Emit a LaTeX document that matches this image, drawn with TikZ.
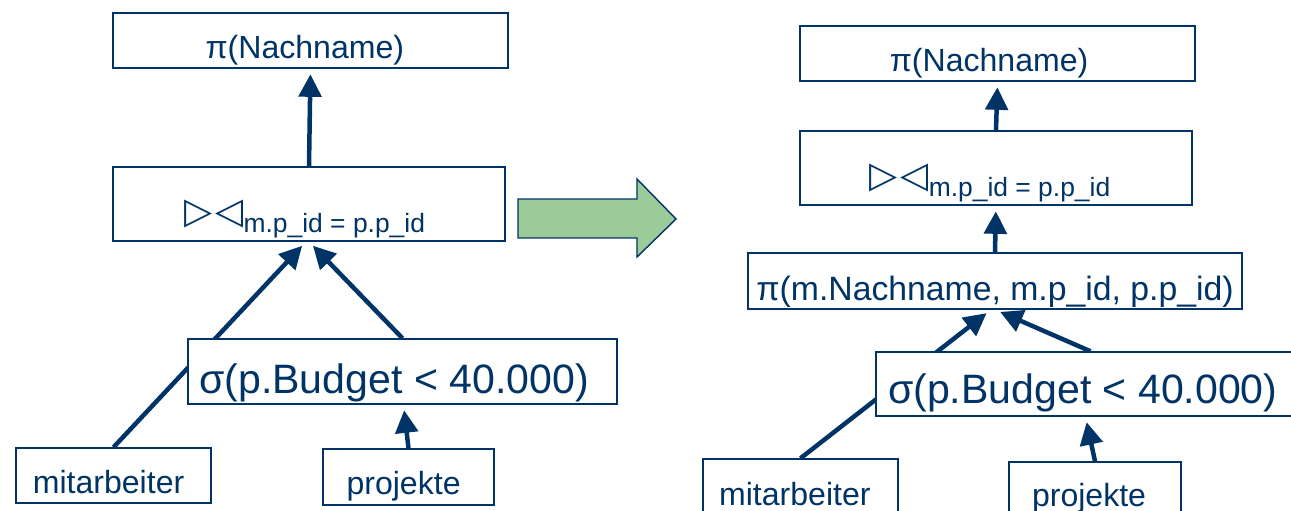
\documentclass[tikz,border=0pt]{standalone}
\usepackage{fontspec}
\setmainfont{Liberation Sans}
\newfontfamily\symfont{DejaVu Sans}
\usetikzlibrary{arrows.meta,calc,backgrounds}
\definecolor{navy}{RGB}{0,51,102}
\definecolor{arrowgreen}{RGB}{155,203,152}
\newcommand{\joinop}{{\symfont\fontsize{26}{26}\selectfont ▷\hspace{2pt}◁}\raisebox{-6.4pt}{\fontsize{18.8}{20}\selectfont m.p\_id = p.p\_id}}
\begin{document}
\begin{tikzpicture}[x=0.025cm,y=-0.025cm,
    box/.style={draw=navy,fill=white,line width=1pt,inner sep=0pt,text=navy,text depth=0pt},
    link/.style={draw=navy,line width=3.2pt,-{Triangle[length=16pt,width=16pt]},shorten >=4pt},
    lbl/.style={font=\fontsize{22.8}{25}\selectfont},
    big/.style={font=\fontsize{29.2}{31}\selectfont}]
  \clip (0,0) rectangle (1291,511);

  % left tree
  \node[box,lbl,minimum width=9.875cm,minimum height=1.375cm,text height=0.875cm] (piL) at (310.5,40.5) {π(Nachname)\hspace*{8pt}};
  \node[box,minimum width=9.8cm,minimum height=1.85cm,text height=0.95cm] (joinL) at (309,204) {\joinop\hspace*{6pt}};
  \node[box,big,minimum width=10.725cm,minimum height=1.625cm,text height=1.075cm] (sigL) at (402.5,371.5) {σ(p.Budget < 40.000)\hspace*{12pt}};
  \node[box,lbl,minimum width=4.875cm,minimum height=1.375cm,text height=0.875cm] (mitL) at (113.5,475.5) {mitarbeiter\hspace*{7pt}};
  \node[box,lbl,minimum width=4.275cm,minimum height=1.4cm,text height=0.85cm] (projL) at (408.5,477) {projekte\hspace*{7pt}};

  % right tree
  \node[box,lbl,minimum width=9.875cm,minimum height=1.375cm,text height=0.875cm] (piR) at (997.5,53.5) {π(Nachname)\hspace*{12pt}};
  \node[box,minimum width=9.8cm,minimum height=1.85cm,text height=0.95cm] (joinR) at (996,168) {\joinop\hspace*{8.5pt}};
  \node[box,minimum width=12.35cm,minimum height=1.4cm,text height=0.95cm,font=\fontsize{24}{26}\selectfont] (projMid) at (995,281) {π(m.Nachname, m.p\_id, p.p\_id)};
  \node[box,big,minimum width=10.725cm,minimum height=1.6cm,text height=0.95cm] (sigR) at (1090.5,384) {σ(p.Budget < 40.000)\hspace*{11pt}};
  \node[box,lbl,minimum width=4.875cm,minimum height=1.375cm,text height=0.925cm] (mitR) at (800.5,486.5) {mitarbeiter\hspace*{8pt}};
  \node[box,lbl,minimum width=4.3cm,minimum height=1.4cm,text height=0.8cm] (projR) at (1095,490) {projekte\hspace*{8.5pt}};

  \begin{scope}[on background layer]
    \draw[link] (joinL.north) -- (piL.south);
    \draw[link] (mitL.north) -- ($(joinL.south)+(-3,0)$);
    \draw[link] (sigL.north) -- (joinL.south);
    \draw[link] (projL.north) -- ($(sigL.south)+(1,0)$);

    \draw[link] (joinR.north) -- (piR.south);
    \draw[link] (projMid.north) -- (joinR.south);
    \draw[link] (mitR.north) -- ($(projMid.south)+(-4,0)$);
    \draw[link] (sigR.north) -- (projMid.south);
    \draw[link] (projR.north) -- ($(sigR.south)+(-5,0)$);
  \end{scope}

  % rewrite arrow
  \draw[navy,line width=1pt,fill=arrowgreen,line join=miter]
    (518,199) -- (637,199) -- (637,179) -- (676,219) -- (637,257) -- (637,238) -- (518,238) -- cycle;
\end{tikzpicture}
\end{document}
